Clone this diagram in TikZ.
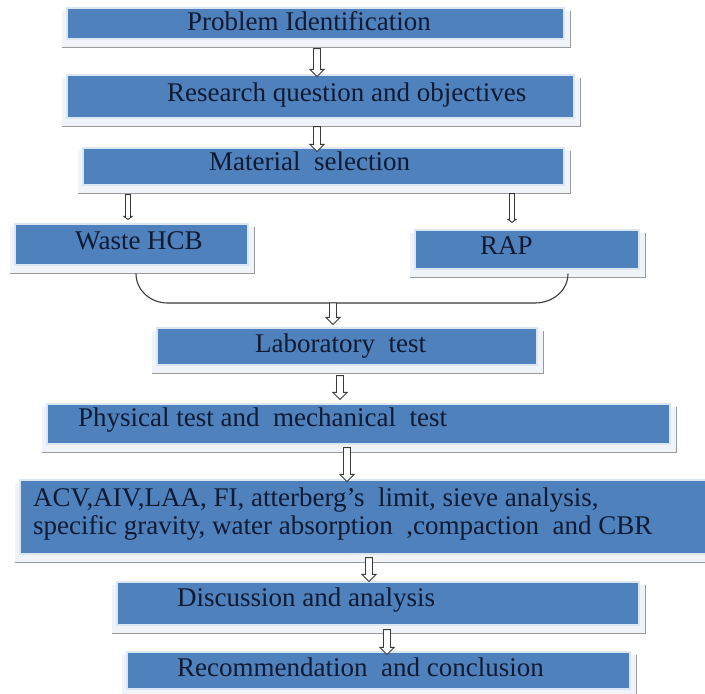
\documentclass[tikz,border=0pt]{standalone}
\usepackage{fontspec}
\setmainfont{Liberation Serif}
\usetikzlibrary{calc,backgrounds}
\definecolor{boxblue}{HTML}{4F81BD}
\definecolor{boxedge}{HTML}{DCE6F2}
\definecolor{shade}{HTML}{9A9A9A}
\definecolor{shadefill}{HTML}{F0F3F8}
\definecolor{ink}{HTML}{0F1A33}
\definecolor{arrowline}{HTML}{3A3A3A}
\tikzset{
  flowbox/.style={rectangle, fill=boxblue, draw=boxedge, line width=1.2pt, inner sep=0pt},
  boxtext/.style={text=ink, inner sep=0pt, anchor=west, font=\rmfamily\fontsize{27}{29}\selectfont, text height=14pt, text depth=0pt},
  hollow/.style={fill=white, draw=arrowline, line width=0.9pt, line join=miter},
  joinline/.style={draw=arrowline, line width=1.1pt},
  shadowline/.style={draw=shade, line width=1.3pt},
}
% hollow block arrow: #1 x position, #2 start point, #3 end point
\newcommand{\harrow}[3]{%
  \draw[hollow] let \p1=(#2), \p2=(#3), \p3=(#1,0) in
    (\x3-3.5pt,\y1) -- (\x3+3.5pt,\y1) -- (\x3+3.5pt,\y2+7pt) -- (\x3+7pt,\y2+7pt)
    -- (\x3,\y2) -- (\x3-7pt,\y2+7pt) -- (\x3-3.5pt,\y2+7pt) -- cycle;}
% slim arrow (material selection to the two materials)
\newcommand{\sarrow}[3]{%
  \draw[hollow] let \p1=(#2), \p2=(#3), \p3=(#1,0) in
    (\x3-2.5pt,\y1) -- (\x3+2.5pt,\y1) -- (\x3+2.5pt,\y2+3pt) -- (\x3+4pt,\y2+3pt)
    -- (\x3,\y2) -- (\x3-4pt,\y2+3pt) -- (\x3-2.5pt,\y2+3pt) -- cycle;}
\newcommand{\boxshadow}[1]{%
  \fill[shadefill] ([xshift=-4pt,yshift=-8pt]#1.south west) rectangle ([xshift=6pt,yshift=-4pt]#1.north east);
  \draw[shadowline] ([xshift=-4pt,yshift=-8pt]#1.south west) -- ([xshift=6pt,yshift=-8pt]#1.south east)
    -- ([xshift=6pt,yshift=-4pt]#1.north east);}
\begin{document}
\begin{tikzpicture}[x=1pt,y=-1pt]
\useasboundingbox (0,0) rectangle (705,694);
\clip (0,0) rectangle (705,694);

% boxes
\node[flowbox, minimum width=497pt, minimum height=31pt] (p1)   at (315.5,23.5) {};
\node[flowbox, minimum width=507pt, minimum height=43pt] (p2)   at (320.5,96.5) {};
\node[flowbox, minimum width=481pt, minimum height=37pt] (p3)   at (323.5,166.5) {};
\node[flowbox, minimum width=233pt, minimum height=41pt] (hcb)  at (131.5,244.5) {};
\node[flowbox, minimum width=224pt, minimum height=39pt] (rap)  at (527,249.5) {};
\node[flowbox, minimum width=380pt, minimum height=37pt] (lab)  at (347,346.5) {};
\node[flowbox, minimum width=623pt, minimum height=40pt] (phys) at (358.5,424) {};
\node[flowbox, minimum width=690pt, minimum height=74pt] (acv)  at (365,517) {};
\node[flowbox, minimum width=522pt, minimum height=43pt] (disc) at (378,603.5) {};
\node[flowbox, minimum width=503pt, minimum height=37pt] (rec)  at (378.5,670.5) {};

\begin{pgfonlayer}{background}
\fill[white] (0,0) rectangle (705,694);
\foreach \b in {p1,p2,p3,hcb,rap,lab,phys,acv,disc,rec} {\boxshadow{\b}}
\end{pgfonlayer}

% texts
\node[boxtext] (t1)  at (187,23)  {Problem Identification};
\node[boxtext] (t2)  at (167,94)  {Research question and objectives};
\node[boxtext] (t3)  at (209,163) {Material\ \ selection};
\node[boxtext] (t4)  at (75,242)  {Waste HCB};
\node[boxtext] (t5)  at (480,247) {RAP};
\node[boxtext] (t6)  at (255,345) {Laboratory\ \ test};
\node[boxtext] (t7)  at (78,419)  {Physical test and\ \ mechanical\ \ test};
\node[boxtext] (t8a) at (33,499)  {ACV,AIV,LAA, FI, atterberg’s\ \ limit,\ sieve analysis,};
\node[boxtext] (t8b) at (33,527)  {specific gravity, water absorption\ \ ,compaction\ \ and CBR};
\node[boxtext] (t9)  at (177,599) {Discussion and analysis};
\node[boxtext] (t10) at (177,669) {Recommendation\ \ and conclusion};

% merge line from the two materials
\coordinate (merge) at (333,303);
\draw[joinline] ([xshift=4.5pt,yshift=-8pt]hcb.south) to[out=-90,in=180]
  ([xshift=36pt]hcb.south |- merge) -- ([xshift=8pt]rap.south |- merge)
  to[out=0,in=-90] ([xshift=41pt,yshift=-4pt]rap.south);

% arrows
\harrow{317}{[yshift=-9pt]p1.south}{[yshift=-2pt]p2.north}
\harrow{317}{[yshift=-8pt]p2.south}{[yshift=-4pt]p3.north}
\sarrow{128}{[yshift=-9pt]p3.south}{[yshift=4pt]hcb.north}
\sarrow{512}{[yshift=-8pt]p3.south}{[yshift=7pt]rap.north}
\harrow{333}{merge}{[yshift=3pt]lab.north}
\harrow{340}{[yshift=-10pt]lab.south}{[yshift=4pt]phys.north}
\harrow{347}{[yshift=-3pt]phys.south}{[yshift=-2pt]acv.north}
\harrow{369}{[yshift=-3pt]acv.south}{[yshift=0pt]disc.north}
\harrow{387}{[yshift=-4pt]disc.south}{[yshift=-3pt]rec.north}
\end{tikzpicture}
\end{document}
